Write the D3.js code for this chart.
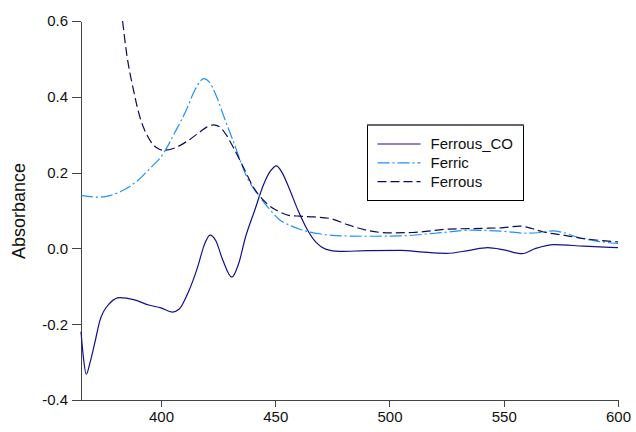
<!DOCTYPE html>
<head>
<meta charset="utf-8">
<title>Absorbance spectra</title>
<style>
body { margin: 0; background: #fff; }
svg { font-family: "Liberation Sans", Arial, sans-serif; }
.axis path, .axis line { stroke: #444; shape-rendering: crispEdges; }
.axis text { font-size: 15px; fill: #111; }
</style>
</head>
<body>
<svg id="chart"></svg>
<script src="https://d3js.org/d3.v7.min.js"></script>
<script>

var seriesNames = ["Ferrous_CO", "Ferric", "Ferrous"];
var seriesColors = ["#11118a", "#1e90ff", "#0c0c55"];
var seriesDash = [null, "12,3,2,3", "9,4"];

// wavelength (nm), absorbance
var ferrousCO = [
  [365,-0.22],[366,-0.285],[367.3,-0.332],[369,-0.30],[371,-0.25],[373.3,-0.19],
  [377.7,-0.144],[382,-0.130],[388,-0.135],[395,-0.150],[400,-0.157],[405,-0.168],
  [408,-0.160],[412,-0.115],[416,-0.050],[419,0.010],[421.5,0.035],[424,0.020],
  [427,-0.030],[431,-0.076],[434,-0.040],[437,0.030],[441,0.100],[445,0.170],
  [448,0.205],[450.5,0.218],[453,0.200],[456,0.160],[460,0.100],[464,0.050],
  [468,0.015],[472,-0.002],[478,-0.008],[490,-0.006],[505,-0.005],[515,-0.010],
  [525,-0.013],[535,-0.005],[543,0.002],[550,-0.004],[558,-0.014],[564,0.000],
  [572,0.010],[585,0.006],[600,0.002]
];

var ferric = [
  [365,0.140],[370,0.136],[373,0.135],[378,0.140],[383,0.152],[390,0.180],
  [395,0.210],[401,0.250],[406,0.305],[411,0.364],[415,0.420],[418.8,0.448],
  [421,0.440],[424.5,0.398],[428,0.340],[431.5,0.285],[437.6,0.188],[443.3,0.135],
  [448,0.100],[452,0.075],[456,0.062],[461,0.050],[470,0.038],[480,0.033],
  [490,0.032],[505,0.033],[520,0.040],[536,0.048],[550,0.045],[560,0.040],
  [566,0.042],[571.5,0.046],[576,0.042],[582,0.030],[590,0.020],[600,0.013]
];

var ferrous = [
  [383.2,0.600],[385,0.513],[388,0.417],[390.8,0.346],[393,0.310],[395.2,0.285],
  [398,0.266],[401,0.259],[406.8,0.267],[412,0.285],[417,0.307],[420,0.320],
  [422.9,0.326],[425.8,0.320],[428.5,0.300],[431.6,0.267],[436,0.215],[440.4,0.162],
  [446,0.120],[452,0.096],[456,0.087],[460.8,0.085],[467,0.083],[474,0.079],
  [482,0.062],[490,0.048],[500,0.041],[510,0.042],[526,0.051],[542,0.053],
  [550,0.055],[557,0.059],[562,0.053],[567,0.044],[576,0.035],[585,0.026],[600,0.017]
];

var xTicks = [400, 450, 500, 550, 600];
var yTicks = [0.6, 0.4, 0.2, 0.0, -0.2, -0.4];
var yTickLabels = ["0.6", "0.4", "0.2", "0.0", "-0.2", "-0.4"];

var W = 636, H = 432;
var svg = d3.select("#chart").attr("width", W).attr("height", H);

var x = d3.scaleLinear().domain([365, 600]).range([81, 618]);
var y = d3.scaleLinear().domain([-0.4, 0.6]).range([400, 21]);

svg.append("g")
    .attr("class", "axis")
    .attr("transform", "translate(0,400)")
    .call(d3.axisBottom(x).tickValues(xTicks).tickSize(7).tickPadding(4).tickSizeOuter(0));

svg.append("g")
    .attr("class", "axis")
    .attr("transform", "translate(81,0)")
    .call(d3.axisLeft(y).tickValues(yTicks).tickSize(9).tickPadding(4).tickSizeOuter(0)
      .tickFormat(function(d, i) { return yTickLabels[i]; }));

svg.append("text")
    .attr("transform", "translate(24.5,211) rotate(-90)")
    .attr("text-anchor", "middle")
    .style("font-size", "18px")
    .attr("fill", "#111")
    .text("Absorbance");

var line = d3.line()
    .x(function(d) { return x(d[0]); })
    .y(function(d) { return y(d[1]); })
    .curve(d3.curveMonotoneX);

var allSeries = [ferrousCO, ferric, ferrous];
allSeries.forEach(function(s, i) {
  svg.append("path")
      .datum(s)
      .attr("d", line)
      .attr("fill", "none")
      .attr("stroke", seriesColors[i])
      .attr("stroke-width", 1.2)
      .attr("stroke-dasharray", seriesDash[i]);
});

// legend
var lg = svg.append("g").attr("transform", "translate(367.5,125)");
lg.append("rect")
    .attr("width", 156).attr("height", 75.5)
    .attr("fill", "#fff").attr("stroke", "#000").attr("stroke-width", 1);
lg.append("line")
    .attr("x1", 0).attr("x2", 156).attr("y1", 0).attr("y2", 0)
    .attr("stroke", "#666").attr("stroke-width", 2);

seriesNames.forEach(function(name, i) {
  var yy = 19 + i * 18.8;
  lg.append("line")
      .attr("x1", 10).attr("x2", 53).attr("y1", yy).attr("y2", yy)
      .attr("stroke", seriesColors[i])
      .attr("stroke-width", 1.2)
      .attr("stroke-dasharray", seriesDash[i]);
  lg.append("text")
      .attr("x", 63).attr("y", yy + 5)
      .style("font-size", "15px")
      .attr("fill", "#111")
      .text(name);
});
</script>
</body>
